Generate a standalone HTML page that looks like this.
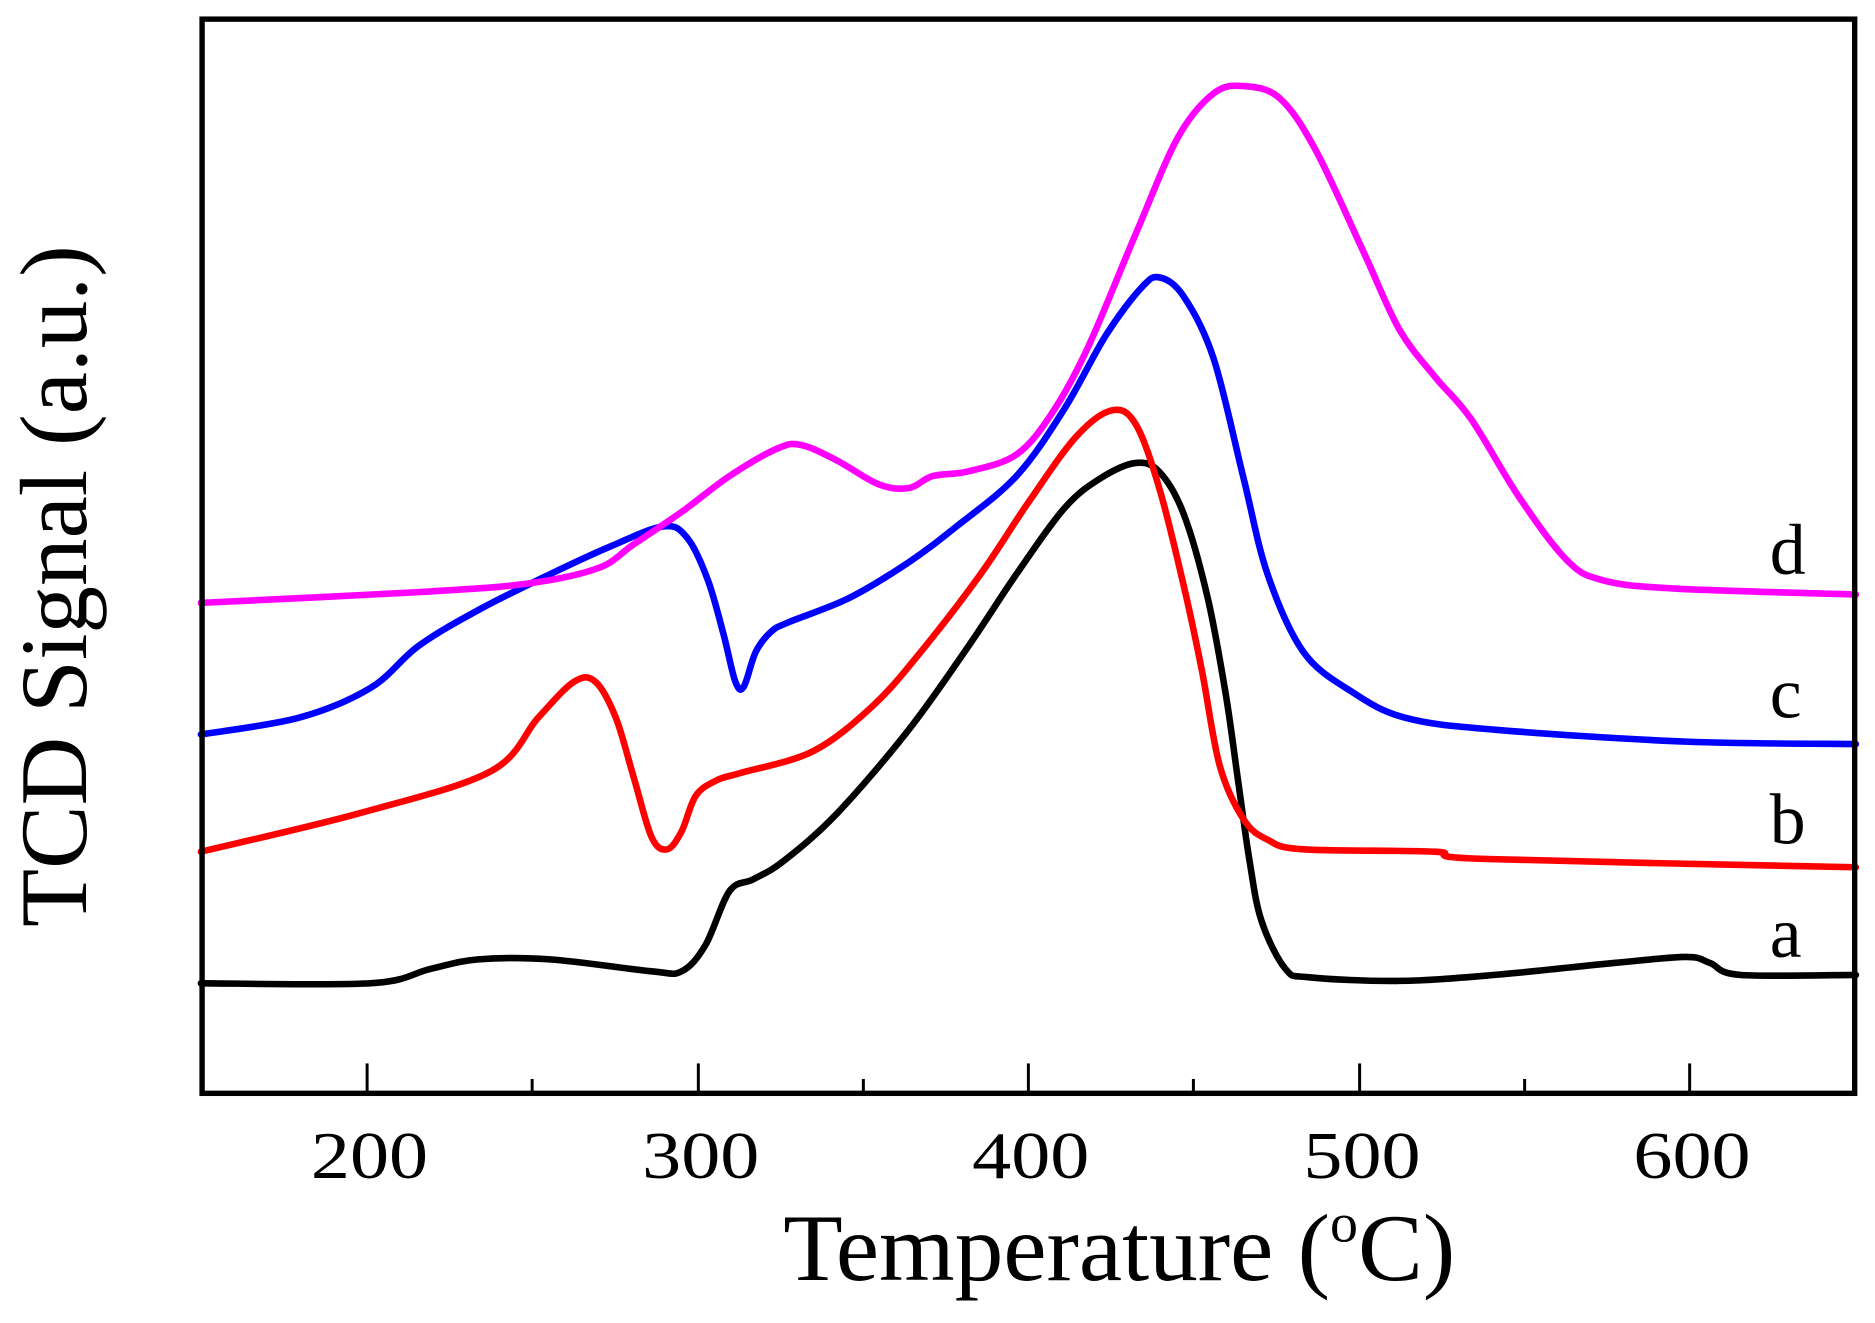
<!DOCTYPE html>
<html><head><meta charset="utf-8"><style>html,body{margin:0;padding:0;background:#fff}svg{display:block}text{font-family:"Liberation Serif","Times New Roman",serif}</style></head>
<body>
<svg id="s" width="1875" height="1323" viewBox="0 0 1568 1106" preserveAspectRatio="none" xmlns="http://www.w3.org/2000/svg">
<rect x="0" y="0" width="1568" height="1106" fill="#fff"/>
<g id="curves" fill="none" stroke-width="5.5" stroke-linejoin="round" stroke-linecap="round"></g>
<rect x="169" y="16" width="1382" height="898" fill="none" stroke="#000" stroke-width="4.5"/>
<g stroke="#000" stroke-width="2.5">
<line x1="307" y1="914" x2="307" y2="889"/><line x1="445" y1="914" x2="445" y2="902"/>
<line x1="584" y1="914" x2="584" y2="889"/><line x1="722" y1="914" x2="722" y2="902"/>
<line x1="860" y1="914" x2="860" y2="889"/><line x1="998" y1="914" x2="998" y2="902"/>
<line x1="1137" y1="914" x2="1137" y2="889"/><line x1="1275" y1="914" x2="1275" y2="902"/>
<line x1="1413" y1="914" x2="1413" y2="889"/>
</g>
<g font-size="56" text-anchor="middle" fill="#000">
<text x="309" y="985" textLength="98" lengthAdjust="spacingAndGlyphs">200</text>
<text x="586" y="985" textLength="98" lengthAdjust="spacingAndGlyphs">300</text>
<text x="862" y="985" textLength="98" lengthAdjust="spacingAndGlyphs">400</text>
<text x="1139" y="985" textLength="98" lengthAdjust="spacingAndGlyphs">500</text>
<text x="1415" y="985" textLength="98" lengthAdjust="spacingAndGlyphs">600</text>
</g>
<g font-size="60" fill="#000">
<text x="1480" y="800">a</text>
<text x="1480" y="705">b</text>
<text x="1480" y="600">c</text>
<text x="1480" y="480">d</text>
</g>
<text x="655" y="1070" font-size="80" textLength="562" lengthAdjust="spacingAndGlyphs">Temperature (<tspan font-size="46" dy="-32">o</tspan><tspan dy="32">C)</tspan></text>
<text transform="translate(72,490) rotate(-90)" text-anchor="middle" font-size="80" textLength="570" lengthAdjust="spacingAndGlyphs">TCD Signal (a.u.)</text>
</svg>
<script>
var D={
"#000":[[168,822],[310,822],[360,810],[400,802],[460,802],[545,812],[570,812],[590,790],[610,745],[630,735],[655,720],[700,680],[760,610],[810,540],[850,480],[890,425],[920,400],[950,387],[970,395],[990,430],[1010,500],[1025,580],[1035,650],[1045,720],[1055,770],[1075,810],[1095,817],[1170,820],[1250,815],[1350,805],[1410,800],[1430,805],[1455,815],[1552,815]],
"#f00":[[168,712],[300,680],[410,645],[450,600],[480,570],[498,570],[515,600],[530,650],[545,700],[558,710],[570,695],[582,665],[600,652],[620,646],[680,628],[730,590],[770,545],[820,480],[860,420],[900,365],[930,343],[950,355],[970,410],[990,490],[1005,560],[1020,640],[1040,685],[1060,702],[1090,710],[1200,712],[1240,718],[1552,725]],
"#00f":[[168,614],[250,600],[310,575],[350,540],[400,510],[460,480],[510,457],[555,440],[575,450],[592,485],[605,530],[615,570],[622,574],[632,545],[645,528],[660,520],[710,500],[760,470],[800,440],[850,398],[890,342],[925,280],[955,240],[970,232],[990,248],[1015,300],[1040,400],[1060,480],[1090,545],[1130,578],[1175,600],[1250,610],[1410,620],[1552,622]],
"#f0f":[[168,504],[350,495],[440,488],[500,475],[530,455],[570,428],[610,398],[650,375],[670,372],[700,385],[735,405],[760,408],[780,398],[810,394],[850,380],[880,345],[910,290],[950,195],[985,115],[1015,78],[1040,72],[1070,82],[1100,125],[1140,210],[1170,275],[1200,315],[1230,350],[1270,415],[1310,468],[1340,485],[1400,492],[1552,497]]
};
var g=document.getElementById("curves"),ns="http://www.w3.org/2000/svg";
["#000","#f00","#00f","#f0f"].forEach(function(c){
var p=D[c],d="M"+p[0][0]+","+p[0][1];
for(var i=0;i<p.length-1;i++){var p0=p[i-1]||p[i],p1=p[i],p2=p[i+1],p3=p[i+2]||p2;
d+=" C"+(p1[0]+(p2[0]-p0[0])/6)+","+(p1[1]+(p2[1]-p0[1])/6)+" "+(p2[0]-(p3[0]-p1[0])/6)+","+(p2[1]-(p3[1]-p1[1])/6)+" "+p2[0]+","+p2[1];}
var e=document.createElementNS(ns,"path");e.setAttribute("d",d);e.setAttribute("stroke",c);g.appendChild(e);});
</script>
</body></html>
